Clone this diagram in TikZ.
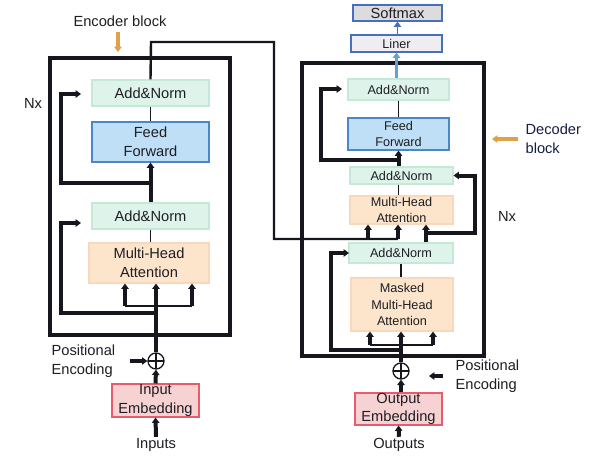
\documentclass[tikz,border=0pt]{standalone}
\usepackage{fontspec}
\setmainfont{Liberation Sans}
\usetikzlibrary{calc}
\usetikzlibrary{arrows.meta}

\definecolor{noir}{RGB}{22,22,30}
\definecolor{texte}{RGB}{30,30,36}
\definecolor{vertNorm}{RGB}{222,244,235}
\definecolor{vertBord}{RGB}{196,233,214}
\definecolor{bleuFF}{RGB}{190,223,245}
\definecolor{bleuBord}{RGB}{74,134,200}
\definecolor{orangeMHA}{RGB}{253,229,204}
\definecolor{orangeBord}{RGB}{250,214,186}
\definecolor{roseEmb}{RGB}{246,210,210}
\definecolor{rougeBord}{RGB}{232,92,110}
\definecolor{grisSoft}{RGB}{220,220,222}
\definecolor{grisLin}{RGB}{238,238,240}
\definecolor{bleuSoft}{RGB}{72,110,190}
\definecolor{bleuFleche}{RGB}{100,160,212}
\definecolor{orangeFleche}{RGB}{222,162,72}
\definecolor{navy}{RGB}{20,30,70}

\def\PoliceEnc{\fontsize{11}{14}\selectfont}
\def\PoliceDec{\fontsize{9.5}{12.5}\selectfont}

\begin{document}
\begin{tikzpicture}[x=0.75pt,y=-0.75pt,
  fleche/.style={-{Triangle[length=4pt,width=5.5pt]}},
  epais/.style={line width=3pt,color=noir},
  moyen/.style={line width=1.8pt,color=noir},
  fin/.style={line width=1.4pt,color=noir},
  cadre/.style={line width=3.2pt,color=noir},
  boite/.style 2 args={draw,line width=0.8pt,inner sep=0pt,align=center,text=texte,
    minimum width=#1*0.75pt,minimum height=#2*0.75pt},
  addnorm/.style={fill=vertNorm,draw=vertBord},
  feedfwd/.style={fill=bleuFF,draw=bleuBord},
  attention/.style={fill=orangeMHA,draw=orangeBord},
  embed/.style={fill=roseEmb,draw=rougeBord},
  sortie/.style={draw=bleuSoft},
  somme/.style={circle,draw=noir,line width=1pt,minimum size=12pt,inner sep=0pt,
    path picture={\draw[line width=1pt,noir]
      (path picture bounding box.north) -- (path picture bounding box.south)
      (path picture bounding box.west) -- (path picture bounding box.east);}},
  etiquette/.style={inner sep=1pt,text=texte,align=left},
]

\fill[white] (0,0) rectangle (594,458);
\useasboundingbox (0,0) rectangle (594,458);

% cadres des blocs
\draw[cadre] (50,58) rectangle (230,335);
\draw[cadre] (302,63) rectangle (484,356);

%début de l'encodeur
\node[boite={117}{26},addnorm,font=\PoliceEnc] (encAN1) at (150.5,93) {Add\&Norm};
\node[boite={117}{40},feedfwd,font=\PoliceEnc] (encFF) at (150.5,142) {Feed\\Forward};
\node[boite={117}{26},addnorm,font=\PoliceEnc] (encAN2) at (150.5,216) {Add\&Norm};
\node[boite={120}{40},attention,font=\PoliceEnc] (encMHA) at (149,263) {Multi-Head\\Attention};
\node[somme] (encPlus) at (156,361) {};
\node[boite={87}{33},embed,font=\PoliceEnc] (encEmb) at (155.5,400.5) {Input\\Embedding};
\node[etiquette,font=\PoliceEnc] (inputs) at (156,445) {Inputs};

\node[etiquette,font=\PoliceEnc] (encTitre) at (120,21) {Encoder block};
\node[etiquette,font=\PoliceEnc] (encNx) at (33,103) {Nx};
\node[etiquette,font=\PoliceEnc,anchor=west] (encPos) at (50,361.5) {Positional\\Encoding};

\coordinate (encFlecheH) at (118,32);
\coordinate (encFlecheB) at (118,52);
\coordinate (encPE) at (130,361);
\coordinate (encR1) at (61,183);
\coordinate (encR1fin) at (81,94);
\coordinate (encR2) at (61,313);
\coordinate (encR2fin) at (81,223);

    % liaisons internes
    \draw[fin] (encAN1.south) -- (encFF.north);
    \draw[fin] (encAN2.south) -- (encAN2.south |- encMHA.north);
    \draw[epais,fleche] (encAN2.north) -- (encFF.south);
    \draw[epais,fleche] (encAN2.north |- encR1) -- (encR1) |- (encR1fin);
    % entrées de l'attention
    \draw[epais,fleche] (encPlus.north) -- (encPlus.north |- encMHA.south);
    \draw[fin] (125,306) -- (192,306);
    \foreach \x in {125,192}{\draw[epais,fleche] (\x,306) -- (encMHA.south -| \x,0);}
    \draw[epais,fleche] (encPlus.north |- encR2) -- (encR2) |- (encR2fin);
    % plongement et position
    \draw[epais,fleche] (encEmb.north) -- (encPlus.south);
    \draw[epais,fleche] (inputs.north) -- (encEmb.south);
    \draw[epais,fleche] (encPE) -- (encPlus.west);
    \draw[line width=2.4pt,orangeFleche,fleche] (encFlecheH) -- (encFlecheB);
%fin de l'encodeur

%début du décodeur
\node[boite={89}{16},sortie,fill=grisSoft,font=\PoliceEnc] (softmax) at (397.5,13) {Softmax};
\node[boite={91}{17},sortie,fill=grisLin,font=\PoliceDec] (liner) at (396.5,43.5) {Liner};
\node[boite={101}{21},addnorm,font=\PoliceDec] (decAN1) at (398.5,89.5) {Add\&Norm};
\node[boite={101}{32},feedfwd,font=\PoliceDec] (decFF) at (398.5,134) {Feed\\Forward};
\node[boite={103}{17},addnorm,font=\PoliceDec] (decAN2) at (401.5,175.5) {Add\&Norm};
\node[boite={103}{28},attention,font=\PoliceDec] (decMHA) at (401.5,210) {Multi-Head\\Attention};
\node[boite={104}{20},addnorm,font=\PoliceDec] (decAN3) at (401,253) {Add\&Norm};
\node[boite={102}{53},attention,font=\PoliceDec] (decMMHA) at (402,304.5) {Masked\\Multi-Head\\Attention};
\node[somme] (decPlus) at (401,371) {};
\node[boite={87}{32},embed,font=\PoliceEnc] (decEmb) at (398.5,409) {Output\\Embedding};
\node[etiquette,font=\PoliceEnc] (outputs) at (399,445) {Outputs};

\node[etiquette,font=\PoliceEnc] (decNx) at (507,216) {Nx};
\node[etiquette,font=\PoliceEnc,anchor=west,text=navy] (decTitre) at (524,139) {Decoder\\block};
\node[etiquette,font=\PoliceEnc,anchor=west] (decPos) at (454,376.5) {Positional\\Encoding};

\coordinate (decFlecheD) at (518,139);
\coordinate (decFlecheG) at (492,139);
\coordinate (decPEa) at (443,376);
\coordinate (decPEb) at (429,376);
\coordinate (decR1) at (321,160);
\coordinate (decR1fin) at (342,89);
\coordinate (decR2) at (475,233);
\coordinate (decR3) at (331,350);
\coordinate (decR3fin) at (349,253);
\coordinate (encSortieA) at (151,42);
\coordinate (encSortieB) at (274,239);

    % sortie du décodeur
    \draw[line width=1.8pt,bleuFleche,fleche] (decAN1.north -| liner.south) -- (liner.south);
    \draw[line width=1.4pt,bleuSoft,fleche] (softmax.south |- liner.north) -- (softmax.south);
    % liaisons internes
    \draw[fin] (decAN1.south) -- (decFF.north);
    \draw[epais,fleche] (decAN2.north -| decFF.south) -- (decFF.south);
    \draw[epais,fleche] (decFF.south |- decR1) -- (decR1) |- (decR1fin);
    \draw[fin] (decAN2.south -| decFF.south) -- (decMHA.north -| decFF.south);
    % sortie de l'encodeur vers l'attention croisée
    \draw[moyen] (encAN1.north) -- (encSortieA) -| (encSortieB) -- (398,239);
    \foreach \x in {368,398}{\draw[epais,fleche] (\x,239) -- (decMHA.south -| \x,0);}
    \draw[epais,fleche] (decAN3.north -| 426,0) -- (decMHA.south -| 426,0);
    \draw[epais,fleche] (426,233) -- (decR2) |- (decAN2.east);
    % attention masquée
    \draw[fin] (decAN3.south -| decPlus.north) -- (decMMHA.north -| decPlus.north);
    \draw[epais,fleche] (decPlus.north) -- (decPlus.north |- decMMHA.south);
    \draw[fin] (370,345) -- (433,345);
    \foreach \x in {370,433}{\draw[epais,fleche] (\x,345) -- (decMMHA.south -| \x,0);}
    \draw[epais,fleche] (decPlus.north |- decR3) -- (decR3) |- (decR3fin);
    % plongement et position
    \draw[epais,fleche] (decEmb.north -| decPlus.south) -- (decPlus.south);
    \draw[epais,fleche] (outputs.north) -- (decEmb.south);
    \draw[epais,fleche] (decPEa) -- (decPEb);
    \draw[line width=2.4pt,orangeFleche,fleche] (decFlecheD) -- (decFlecheG);
%fin du décodeur

\end{tikzpicture}
\end{document}
